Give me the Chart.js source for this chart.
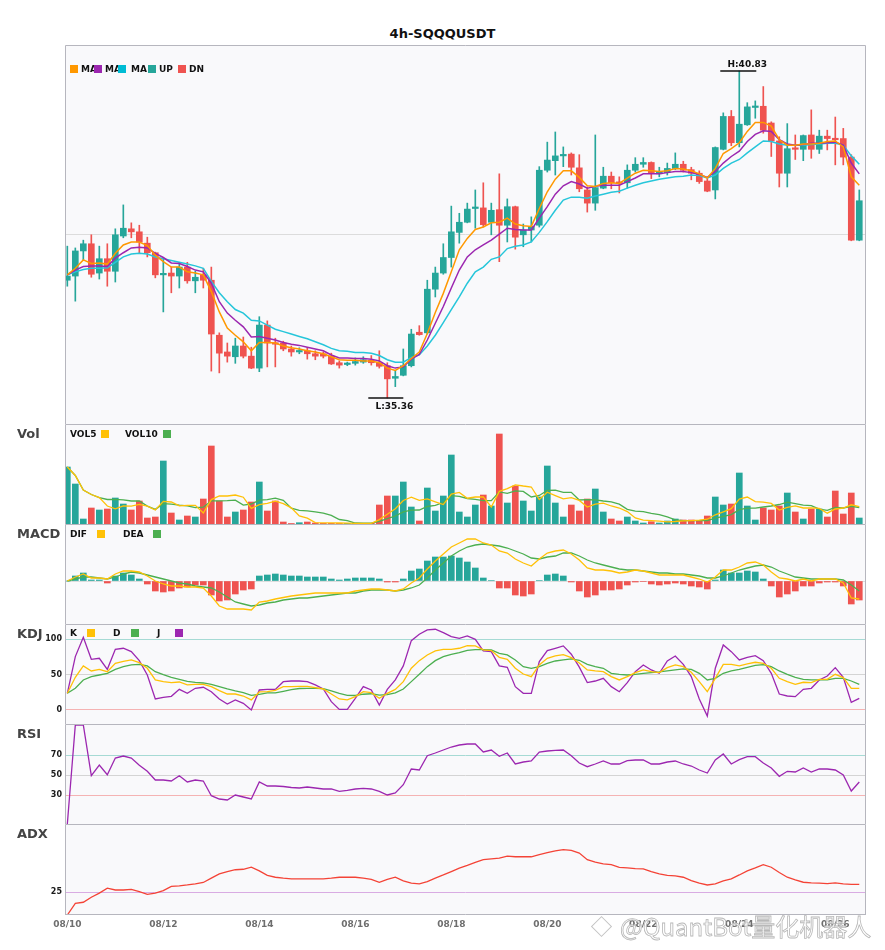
<!DOCTYPE html>
<html><head><meta charset="utf-8">
<script src="https://cdn.jsdelivr.net/npm/chart.js@4.4.1/dist/chart.umd.min.js"></script>
<style>
body{margin:0;background:#fff;width:885px;height:950px;position:relative;overflow:hidden;font-family:"DejaVu Sans",sans-serif;}
canvas{position:absolute;left:0;}
.t{position:absolute;font-weight:bold;font-size:9px;line-height:10px;color:#111;white-space:nowrap;}
.p{position:absolute;font-weight:bold;font-size:13px;line-height:14px;color:#444;left:17px;}
.sq{position:absolute;width:8px;height:8px;}
#title{position:absolute;left:0;width:885px;top:26px;text-align:center;font-weight:bold;font-size:13px;line-height:16px;color:#111;}
#wm{position:absolute;left:620px;top:910px;font-family:"Noto Sans CJK SC",sans-serif;font-size:24px;line-height:32px;color:rgba(255,255,255,0.7);-webkit-text-stroke:0.8px #b8b8b8;white-space:nowrap;}
#logo{position:absolute;left:594px;top:919px;width:13px;height:13px;border:1.5px solid #c4c4c4;transform:rotate(45deg);}
</style></head><body>
<div id="title">4h-SQQQUSDT</div>
<canvas id="cMain" width="885" height="379" style="top:45px;width:885px;height:379px"></canvas>
<canvas id="cVol" width="885" height="100" style="top:424px;width:885px;height:100px"></canvas>
<canvas id="cMacd" width="885" height="100" style="top:524px;width:885px;height:100px"></canvas>
<canvas id="cKdj" width="885" height="100" style="top:624px;width:885px;height:100px"></canvas>
<canvas id="cRsi" width="885" height="100" style="top:724px;width:885px;height:100px"></canvas>
<canvas id="cAdx" width="885" height="126" style="top:824px;width:885px;height:126px"></canvas>

<div class="sq" style="left:70px;top:65px;background:#ff9800"></div><div class="t" style="left:81px;top:64px">MA</div>
<div class="sq" style="left:94px;top:65px;background:#9c27b0"></div><div class="t" style="left:105px;top:64px">MA</div>
<div class="sq" style="left:118px;top:65px;background:#00bcd4"></div><div class="t" style="left:131px;top:64px">MA</div>
<div class="sq" style="left:148px;top:65px;background:#26a69a"></div><div class="t" style="left:159px;top:64px">UP</div>
<div class="sq" style="left:178px;top:65px;background:#ef5350"></div><div class="t" style="left:189px;top:64px">DN</div>

<div class="p" style="top:427px">Vol</div>
<div class="t" style="left:70px;top:429px">VOL5</div><div class="sq" style="left:101px;top:430px;background:#ffc107"></div>
<div class="t" style="left:125px;top:429px">VOL10</div><div class="sq" style="left:163px;top:430px;background:#4caf50"></div>

<div class="p" style="top:527px">MACD</div>
<div class="t" style="left:70px;top:529px">DIF</div><div class="sq" style="left:97px;top:530px;background:#ffc107"></div>
<div class="t" style="left:123px;top:529px">DEA</div><div class="sq" style="left:153px;top:530px;background:#4caf50"></div>

<div class="p" style="top:627px">KDJ</div>
<div class="t" style="left:70px;top:628px">K</div><div class="sq" style="left:87px;top:629px;background:#ffc107"></div>
<div class="t" style="left:113px;top:628px">D</div><div class="sq" style="left:131px;top:629px;background:#4caf50"></div>
<div class="t" style="left:157px;top:628px">J</div><div class="sq" style="left:175px;top:629px;background:#9c27b0"></div>

<div class="p" style="top:727px">RSI</div>
<div class="p" style="top:827px">ADX</div>

<div id="logo"></div>
<div id="wm">@QuantBot量化机器人</div>

<script>
// ---------- data ----------
const dateLabels = ['08/10','08/12','08/14','08/16','08/18','08/20','08/22','08/24','08/26'];
const dateIndex = [0,12,24,36,48,60,72,84,96];

const open = [37.33,37.40,37.82,37.94,37.45,37.69,37.48,38.07,38.19,38.14,
37.95,37.79,37.42,37.45,37.40,37.55,37.32,37.42,37.33,36.41,
36.13,36.05,36.23,36.06,35.86,36.58,36.28,36.28,36.18,36.13,
36.15,36.10,36.10,36.06,35.95,35.92,35.94,35.96,35.99,35.95,
35.90,35.69,35.74,35.90,36.46,36.45,37.18,37.45,37.71,38.13,
38.30,38.53,38.54,38.30,38.51,38.25,38.56,38.09,38.17,38.25,
39.17,39.33,39.41,39.44,39.21,38.84,38.62,38.87,39.07,38.96,
38.96,39.17,39.27,39.30,39.11,39.13,39.20,39.27,39.18,39.12,
38.99,38.84,39.52,40.07,39.63,39.93,40.22,40.24,39.96,39.66,
39.12,39.53,39.52,39.76,39.52,39.74,39.70,39.70,39.39,38.00];
const high = [37.90,37.87,38.00,38.09,37.90,37.94,38.19,38.59,38.29,38.25,
38.05,37.80,37.70,37.55,37.63,37.63,37.48,37.53,37.55,36.45,
36.28,36.36,36.38,36.21,36.72,36.65,36.36,36.31,36.23,36.20,
36.20,36.15,36.13,36.11,35.98,35.96,36.03,36.05,36.07,36.15,
35.95,35.82,36.18,36.51,36.57,37.33,37.55,37.94,38.57,38.45,
38.62,38.84,38.96,38.62,39.11,38.69,38.57,38.27,38.39,39.23,
39.64,39.81,39.56,39.46,39.43,38.89,39.76,39.22,39.14,39.06,
39.26,39.38,39.38,39.31,39.22,39.29,39.46,39.32,39.22,39.16,
39.03,39.56,40.13,40.17,40.83,40.30,40.33,40.57,39.98,39.73,
39.95,39.76,39.76,40.18,39.84,39.84,40.06,39.87,39.43,38.84];
const low = [37.23,36.98,37.67,37.38,37.35,37.23,37.30,38.04,38.04,37.79,
37.72,37.37,36.80,37.12,37.20,37.28,37.12,37.20,35.81,35.78,
35.96,35.94,36.03,35.85,35.80,35.88,35.88,36.15,36.06,36.10,
36.01,36.00,36.03,35.92,35.86,35.90,35.91,35.94,35.91,35.86,
35.36,35.55,35.73,35.88,36.41,36.43,37.05,37.43,37.55,37.95,
38.29,38.20,38.22,38.09,37.64,37.97,37.85,37.89,37.97,38.22,
39.14,39.09,39.23,39.09,38.81,38.47,38.50,38.86,38.86,38.79,
38.87,39.14,39.22,39.03,39.06,39.09,39.18,39.14,39.01,38.95,
38.81,38.69,39.51,39.58,39.56,39.92,40.04,39.79,39.40,38.89,
38.89,39.35,39.33,39.37,39.45,39.51,39.26,39.26,37.99,37.99];
const close = [37.40,37.82,37.94,37.43,37.69,37.48,38.09,38.20,38.14,37.97,
37.79,37.42,37.43,37.40,37.55,37.32,37.38,37.33,36.43,36.11,
36.06,36.23,36.06,35.86,36.58,36.28,36.26,36.18,36.13,36.15,
36.10,36.06,36.06,35.93,35.91,35.93,35.97,36.00,35.95,35.89,
35.68,35.72,35.90,36.43,36.42,37.18,37.45,37.71,38.14,38.30,
38.52,38.54,38.26,38.50,38.25,38.56,38.05,38.17,38.23,39.17,
39.34,39.41,39.42,39.22,38.86,38.62,38.88,39.07,38.96,38.95,
39.17,39.27,39.30,39.13,39.15,39.20,39.27,39.17,39.12,38.98,
38.82,39.55,40.07,39.63,39.94,40.23,40.24,39.84,39.66,39.12,
39.53,39.52,39.75,39.52,39.74,39.70,39.68,39.39,38.00,38.66];

const maFast = [37.42,37.53,37.67,37.61,37.62,37.60,37.78,37.92,37.97,37.97,
37.91,37.75,37.64,37.55,37.55,37.47,37.45,37.42,37.14,36.80,
36.53,36.41,36.30,36.15,36.29,36.29,36.28,36.23,36.20,36.18,
36.15,36.13,36.10,36.05,36.00,35.99,35.99,35.98,35.98,35.95,
35.86,35.82,35.90,36.02,36.13,36.44,36.79,37.11,37.47,37.84,
38.03,38.18,38.22,38.29,38.30,38.37,38.27,38.24,38.23,38.53,
38.81,39.02,39.16,39.16,39.05,38.91,38.90,38.95,38.96,38.95,
39.04,39.12,39.17,39.16,39.15,39.16,39.20,39.19,39.16,39.11,
39.04,39.20,39.45,39.53,39.63,39.82,39.97,39.97,39.91,39.68,
39.59,39.59,39.61,39.61,39.62,39.65,39.66,39.56,39.06,38.92];
const maMid = [37.42,37.50,37.56,37.57,37.57,37.56,37.70,37.79,37.87,37.88,
37.87,37.78,37.71,37.62,37.61,37.56,37.50,37.47,37.28,36.97,
36.78,36.66,36.55,36.38,36.39,36.36,36.33,36.29,36.26,36.24,
36.21,36.18,36.15,36.08,36.03,36.03,36.02,36.02,36.01,35.98,
35.90,35.86,35.88,36.01,36.09,36.33,36.61,36.89,37.20,37.50,
37.72,37.84,37.92,38.00,38.10,38.20,38.18,38.17,38.17,38.37,
38.56,38.77,38.91,38.98,38.94,38.87,38.90,38.92,38.92,38.92,
38.98,39.04,39.11,39.11,39.11,39.13,39.15,39.15,39.13,39.10,
39.05,39.15,39.29,39.40,39.49,39.65,39.77,39.83,39.82,39.68,
39.61,39.59,39.60,39.62,39.62,39.63,39.64,39.59,39.29,39.11];
const maSlow = [37.42,37.47,37.51,37.53,37.53,37.54,37.63,37.72,37.77,37.78,
37.77,37.72,37.69,37.66,37.63,37.60,37.57,37.53,37.31,37.12,
36.97,36.84,36.78,36.66,36.65,36.58,36.51,36.47,36.43,36.39,
36.35,36.30,36.25,36.19,36.15,36.14,36.12,36.12,36.11,36.07,
36.00,35.96,35.96,36.04,36.08,36.23,36.41,36.62,36.84,37.05,
37.28,37.47,37.55,37.68,37.72,37.86,37.90,37.92,37.97,38.13,
38.31,38.50,38.67,38.72,38.72,38.70,38.74,38.77,38.80,38.82,
38.87,38.92,38.96,38.99,39.02,39.04,39.06,39.07,39.09,39.08,
39.04,39.09,39.20,39.29,39.35,39.46,39.56,39.66,39.65,39.61,
39.59,39.59,39.59,39.60,39.61,39.62,39.62,39.59,39.41,39.27];

const volume = [57,40,5,16,14,15,26,20,14,23,
6,7,63,11,4,8,7,25,78,23,
7,12,14,22,42,13,23,2,0.5,1.3,
2,1,0.7,0.7,0.7,0.7,0.7,0.7,0.7,19,
28,28,42,17,3,36,13,28,69,12,
7,19,29,18,90,21,38,23,13,27,
58,21,7,19,13,25,35,12,5,3,
7,3,1,2.3,1,3,5,4,4,3,
8,27,19,20,51,18,4,16,14,18,
31,12,5,15,15,7,33,10,31,6];
const vol5 = [57,48.5,34,29.5,26.4,18,15.2,18.2,17.8,19.6,
17.8,14,22.6,22,18.2,18.6,18.6,11,24.4,28.2,
28,29,26.8,15.6,19.4,20.6,22.8,20.4,16.1,8,
5.8,1.4,1.1,1.1,1.0,0.8,0.7,0.7,0.7,4.4,
9.8,15.3,23.5,26.8,23.6,25.2,22.2,19.4,29.8,31.6,
25.8,27,27.2,17,32.6,35.4,39.2,38,37,24.4,
31.8,28.4,25.2,26.4,23.6,17,19.8,20.8,18,16,
12.4,6,3.8,3.3,2.9,2.1,2.5,3.1,3.4,3.8,
4.8,9.2,12.2,15.4,25,27,22.4,21.8,20.6,14,
16.6,18.2,16,16.2,15.6,10.8,15,16,19.2,17.4];
const vol10 = [57,48.5,34,29.5,26.4,24.5,24.7,24.1,23,23,
17.9,14.6,20.4,19.9,18.9,18.2,16.3,16.8,23.2,23.2,
23.3,23.8,18.9,20,23.8,24.3,25.9,23.6,15.9,13.7,
13.2,12.1,10.8,8.6,4.5,3.3,1.0,0.9,0.9,2.7,
5.3,8.0,12.1,13.8,14.0,17.5,18.7,21.5,28.3,27.6,
25.5,24.6,23.3,23.4,32.1,30.6,33.1,32.6,27,28.5,
33.6,33.8,31.6,31.7,24,24.4,24.1,23,22.2,19.8,
14.7,12.9,12.3,10.6,9.4,7.2,4.2,3.4,3.3,3.3,
3.4,5.8,7.6,9.4,14.4,15.9,15.8,17,18,19.5,
21.8,20.3,18.9,18.4,14.8,13.7,16.6,16,17.7,16.5];

const dif = [0,0.04,0.07,0.03,0.03,0.02,0.07,0.10,0.10,0.09,
0.05,0.00,-0.03,-0.05,-0.05,-0.06,-0.06,-0.07,-0.15,-0.25,
-0.28,-0.28,-0.28,-0.29,-0.21,-0.20,-0.18,-0.165,-0.15,-0.14,
-0.13,-0.12,-0.12,-0.12,-0.12,-0.12,-0.10,-0.09,-0.08,-0.08,
-0.09,-0.10,-0.08,-0.02,0.03,0.12,0.20,0.27,0.34,0.38,
0.42,0.42,0.38,0.36,0.30,0.28,0.22,0.18,0.15,0.22,
0.28,0.30,0.31,0.27,0.21,0.13,0.11,0.11,0.10,0.08,
0.09,0.11,0.10,0.08,0.06,0.06,0.06,0.06,0.04,0.02,
-0.01,0.04,0.11,0.11,0.14,0.18,0.19,0.16,0.09,0.03,
0.02,0.00,0.02,0.00,0.02,0.02,0.02,-0.02,-0.17,-0.18];
const dea = [0,0.02,0.04,0.04,0.03,0.02,0.04,0.07,0.09,0.08,
0.06,0.04,0.02,0.00,-0.02,-0.03,-0.05,-0.06,-0.07,-0.11,
-0.16,-0.21,-0.23,-0.25,-0.24,-0.22,-0.21,-0.19,-0.18,-0.17,
-0.17,-0.16,-0.15,-0.14,-0.13,-0.12,-0.12,-0.10,-0.09,-0.09,
-0.09,-0.10,-0.09,-0.07,-0.04,0.03,0.11,0.18,0.25,0.30,
0.34,0.36,0.37,0.36,0.35,0.33,0.30,0.27,0.23,0.22,
0.24,0.25,0.28,0.28,0.25,0.21,0.18,0.16,0.14,0.12,
0.11,0.11,0.10,0.09,0.08,0.08,0.07,0.07,0.06,0.05,
0.03,0.03,0.05,0.08,0.11,0.13,0.15,0.16,0.14,0.10,
0.07,0.04,0.03,0.02,0.02,0.02,0.02,0.01,-0.04,-0.10];
const macdHist = [0,0.05,0.08,0.01,0.01,-0.02,0.05,0.08,0.06,0.02,
-0.03,-0.10,-0.11,-0.10,-0.07,-0.06,-0.04,-0.04,-0.14,-0.20,
-0.19,-0.13,-0.09,-0.08,0.05,0.06,0.07,0.06,0.05,0.05,
0.04,0.04,0.04,0.02,0.01,0.02,0.03,0.03,0.03,0.02,
-0.01,-0.01,0.02,0.10,0.12,0.20,0.24,0.24,0.25,0.23,
0.19,0.13,0.03,0.005,-0.07,-0.07,-0.14,-0.15,-0.13,0.005,
0.06,0.07,0.05,-0.01,-0.10,-0.16,-0.14,-0.09,-0.09,-0.08,
-0.04,-0.01,-0.005,-0.03,-0.04,-0.03,-0.02,-0.03,-0.05,-0.06,
-0.08,0.01,0.11,0.08,0.08,0.10,0.09,0.02,-0.05,-0.16,
-0.13,-0.10,-0.05,-0.05,-0.02,-0.01,-0.01,-0.05,-0.23,-0.19];

const kLine = [23.6,46.2,62.3,55.2,57.5,54.2,66,68.9,70.8,67,
59,42.5,40.1,38.7,39.6,35.4,36.3,36.3,33,27.4,
22.6,22.6,19.8,14.2,25.5,25.9,27.8,33,33,33.5,
33.5,31.6,29.7,22.6,15.6,14.2,18.9,25.9,24.5,16.5,
23.6,29.2,40.1,59,69.8,77.8,83.5,85.8,85.8,87.3,
91,90.6,84.9,84,74.5,71.7,59,50.9,47.2,63.7,
73.1,76.4,78.3,74.1,66.5,56.6,55.2,54.2,47.2,42.5,
47.2,52.8,56.6,54.2,52.8,59.9,63.7,61.3,53.3,40.1,
25.9,44.8,64.6,64.6,62.3,65.1,67.5,66,59,44.8,
40.1,36.3,39.2,38.7,43.4,43.4,50.5,45.8,30.7,30.7];
const dLine = [23.6,30.7,42.5,47.2,49.5,51.9,57.5,61.3,63.7,64.6,
62.3,54.2,50,46.2,43.4,40.6,39.2,38.2,36.3,33,
29.7,26.9,24.5,20.8,22.2,24.1,24.1,26.4,28.7,30.4,
30.7,30.7,30.2,26.9,23.6,20.8,20.5,22.3,23,21,
21.8,24.3,29.7,40.1,50.5,61.3,69.8,75.5,78.8,81.1,
84.4,85.4,85.4,84.9,80.2,77.8,70.8,61.3,59,61.3,
66,69.3,70.8,72.2,70.3,64.6,61.3,59,51.9,50.5,
49.5,50.5,51.9,52.8,53.8,55.2,56.6,58,57.5,51.9,
42.5,44.8,51.9,55.2,57.5,60.4,63.2,64.2,61.3,55.2,
50.5,46.2,43.4,42.5,42.5,42.5,44.8,44.8,41,36.3];
const jLine = [23.6,75.5,102.8,71.7,73.1,57.5,85.8,87.3,82.5,69.8,
49.5,15.6,17.9,19.3,29.2,23.6,30.7,32.1,25.9,15.6,
8.5,14.2,9.4,0,28.3,29.2,29.2,40,41,41,
40.1,35.4,29.7,11.8,0.9,0.9,16.5,33,28.3,7.1,
29.2,42.5,62.3,98.1,107.1,113.2,114.2,109.4,103.8,101.4,
104.7,100,83.5,82.5,62.3,60.4,33,23.6,23.6,68.4,
84,87.3,90.6,78.8,60.6,38.7,41,44.8,33,25.9,
38.7,54.2,63.7,56.6,51.9,69.3,76.4,64.6,47.2,15.6,
-8.5,59,92,82.5,70.8,74.5,76.9,69.8,51.9,22.6,
19.8,18.9,29.2,30.7,42.5,48.1,59.9,46.2,10.8,16.5];

const rsi = [1,100,100,49.3,60,50.3,67,69,67,59.7,
53.7,45,45,44,49.3,43,45,44,29.3,26,
25,30,28,26,43,39,39,38.5,37.5,37,
38,37,36,36,33.7,34.7,36,36.7,36,33.7,
30,32,40.3,56,55,69.3,72,75,78,80,
81,81,73,75,68.7,72,61,63,64,73,
74,74.7,75,69.3,62,58.3,61,64,61,61,
64.3,65,65,61,61,63,64,61,59,55,
52,65,71,61,65.3,68.3,68.3,62,57,48.7,
53.7,53,57,53,56,56,55,50,34,43];

const adx = [15,20.1,20.6,22.8,24.6,26.8,26,26,26.3,25.3,
24.1,24.6,25.7,27.6,27.8,28.2,28.7,29.3,31.2,33.1,
34.1,34.9,35.1,36,34.4,32.4,31.6,31.2,30.9,30.9,
30.9,30.9,30.9,31.2,31.6,31.6,31.6,31.2,30.7,29.4,
30.7,31.6,30,29,28.7,29.7,31.2,32.6,34.1,35.6,
36.8,38.1,39.3,39.7,40,40.9,40.6,40.6,40.6,41.5,
42.4,43.2,43.7,43.4,42.2,39.3,38.2,37.5,37.1,35.9,
35.7,35.4,35.3,34.1,33.1,32.4,32.2,31.6,30.1,29,
28.2,28.7,30,30.9,32.6,34.4,35.7,37.1,36,33.7,
31.6,30.4,29.4,29.1,29,28.8,29.1,28.7,28.5,28.5];

// ---------- styling ----------
const UP = '#26a69a', DN = '#ef5350';
const candleColor = close.map((c,i)=> c >= open[i] ? UP : DN);
const histColor = macdHist.map(v => v >= 0 ? UP : DN);
const FONT = 'DejaVu Sans';

const pts = arr => arr.map((v,i)=>({x:i, y:v}));
const line = (arr, color, w) => ({type:'line', data: pts(arr), borderColor: color, borderWidth: w || 1.3,
  pointRadius:0, tension:0, fill:false, order:0});

function panelPlugin(drawBottom){
  return {id:'panel',
    beforeDraw(c){const a=c.chartArea,x=c.ctx;x.save();x.fillStyle='#f9f9fb';x.fillRect(a.left,a.top,a.right-a.left,a.bottom-a.top);x.restore();},
    afterDraw(c){const a=c.chartArea,x=c.ctx;x.save();x.strokeStyle='#b6b6be';x.lineWidth=1;x.beginPath();
      x.moveTo(a.left+0.5,a.bottom);x.lineTo(a.left+0.5,a.top+0.5);x.lineTo(a.right-0.5,a.top+0.5);x.lineTo(a.right-0.5,a.bottom);
      if(drawBottom){x.moveTo(a.left,a.bottom-0.5);x.lineTo(a.right,a.bottom-0.5);}
      x.stroke();x.restore();}};
}

function xAxis(show){
  const o = {type:'linear', min:-0.29, max:99.84, display:show, offset:false,
    grid:{display:false}, border:{display:false}};
  if(show){
    o.afterBuildTicks = s => { s.ticks = dateIndex.map(v=>({value:v})); };
    o.afterFit = s => { s.height = 35; s.paddingLeft = 0; s.paddingRight = 0; };
    o.ticks = {autoSkip:false, maxRotation:0, padding:-4, color:'#6e6e6e',
      font:{family:FONT, size:9, weight:'bold'},
      callback: v => dateLabels[dateIndex.indexOf(v)]};
  }
  return o;
}
function yAxis(min, max, ticks, colors, showLabels){
  return {type:'linear', position:'left', min, max, display:true,
    afterBuildTicks: s => { s.ticks = ticks.map(v=>({value:v})); },
    afterFit: s => { s.width = 65; s.paddingTop = 0; s.paddingBottom = 0; },
    grid:{drawTicks:false, lineWidth:1, color: ctx => colors[ticks.indexOf(ctx.tick ? ctx.tick.value : null)] || 'rgba(0,0,0,0)'},
    border:{display:false},
    ticks:{display:showLabels, padding:3, color:'#1a1a1a', font:{family:FONT, size:8, weight:'bold'},
      callback: v => String(v)}};
}
function makeChart(id, datasets, y, showX, extraPlugins){
  return new Chart(document.getElementById(id), {
    type:'bar',
    data:{datasets},
    options:{responsive:false, animation:false, events:[],
      layout:{padding:{left:0, right:19, top:0, bottom:0}},
      plugins:{legend:{display:false}, tooltip:{enabled:false}},
      scales:{x: xAxis(showX), y}},
    plugins:[panelPlugin(showX)].concat(extraPlugins || [])
  });
}

// H / L annotation
const hlPlugin = {id:'hl', afterDatasetsDraw(c){
  const xs=c.scales.x, ys=c.scales.y, ctx=c.ctx;
  const hi = Math.max(...high), hiI = high.indexOf(hi);
  const lo = Math.min(...low), loI = low.indexOf(lo);
  ctx.save(); ctx.strokeStyle='#111'; ctx.lineWidth=1.5; ctx.fillStyle='#111';
  ctx.font = 'bold 9px "'+FONT+'"'; ctx.textAlign='center';
  let px = xs.getPixelForValue(hiI), py = ys.getPixelForValue(hi);
  ctx.beginPath(); ctx.moveTo(px-19,py); ctx.lineTo(px+17,py); ctx.stroke();
  ctx.textBaseline='bottom'; ctx.fillText('H:'+hi.toFixed(2), px+8, py-2);
  px = xs.getPixelForValue(loI); py = ys.getPixelForValue(lo);
  ctx.beginPath(); ctx.moveTo(px-19,py); ctx.lineTo(px+16,py); ctx.stroke();
  ctx.textBaseline='top'; ctx.fillText('L:'+lo.toFixed(2), px+7, py+4);
  ctx.restore();
}};

// ---------- charts ----------
makeChart('cMain', [
  {type:'bar', data: low.map((l,i)=>({x:i, y:[l, high[i]]})), backgroundColor: candleColor, barThickness:1, grouped:false, order:3},
  {type:'bar', data: open.map((o,i)=>({x:i, y:[o, close[i]]})), backgroundColor: candleColor, barThickness:6, minBarLength:1.5, grouped:false, order:2},
  line(maFast, '#ff9800', 1.5),
  line(maMid, '#9c27b0', 1.5),
  line(maSlow, '#26c6da', 1.5)
], yAxis(34.925, 41.265, [38.09], ['#dcdcdc'], false), false, [hlPlugin]);

makeChart('cVol', [
  {type:'bar', data: pts(volume), backgroundColor: candleColor, barThickness:6, grouped:false, order:2},
  line(vol5, '#ffc107', 1.3),
  line(vol10, '#4caf50', 1.3)
], yAxis(0, 100, [], [], false), false);

makeChart('cMacd', [
  {type:'bar', data: pts(macdHist), backgroundColor: histColor, barThickness:6, grouped:false, order:2},
  line(dif, '#ffc107', 1.3),
  line(dea, '#4caf50', 1.3)
], yAxis(-0.43, 0.57, [0], ['#dddddd'], false), false);

makeChart('cKdj', [
  line(kLine, '#ffc107', 1.3),
  line(dLine, '#4caf50', 1.3),
  line(jLine, '#9c27b0', 1.3)
], yAxis(-19.8, 121.6, [0,50,100], ['#f5b3b3','#d4d4d4','#a6dad4'], true), false);

makeChart('cRsi', [
  line(rsi, '#9c27b0', 1.3)
], yAxis(1, 101, [30,50,70], ['#f5b3b3','#d4d4d4','#a6dad4'], true), false);

makeChart('cAdx', [
  line(adx, '#f44336', 1.3)
], yAxis(15, 55, [25], ['#d9ace3'], true), true);
</script>
</body></html>
